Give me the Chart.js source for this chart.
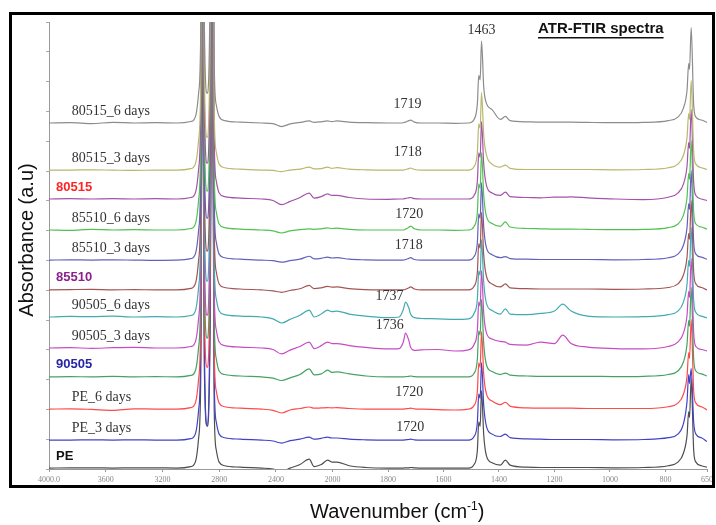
<!DOCTYPE html>
<html lang="en">
<head>
    <meta charset="UTF-8">
    <title>ATR-FTIR spectra</title>
    <script src="https://cdn.jsdelivr.net/npm/chart.js"></script>
    <style>
        html, body { margin: 0; padding: 0; background: #fff; }
        #wrap { width: 716px; height: 525px; }
    </style>
</head>
<body>
    <div id="wrap"><canvas id="ftirChart" width="716" height="525"></canvas></div>

    <script>
        // wavenumber grid shared by all spectra (cm-1)
        const wavenumbers = [
            4000, 3850, 3700, 3550, 3400, 3250, 3100,
            3000, 2965, 2945, 2930, 2918, 2905, 2885, 2865, 2849, 2835, 2820, 2800, 2760, 2650,
            2500, 2420, 2360, 2300, 2230, 2165, 2130, 2080, 2035, 2005, 1985, 1940, 1880, 1800,
            1760, 1745, 1737, 1725, 1719, 1705, 1680, 1620, 1560, 1510,
            1490, 1478, 1473, 1468, 1463, 1455, 1445, 1425, 1395, 1377, 1360,
            1300, 1250, 1200, 1170, 1140, 1080, 980, 880,
            790, 755, 735, 722, 716, 713, 707, 698, 690, 670, 650
        ];

        const seriesNames = ['80515_6 days', '80515_3 days', '80515', '85510_6 days', '85510_3 days', '85510',
            '90505_6 days', '90505_3 days', '90505', 'PE_6 days', 'PE_3 days', 'PE'];

        // vertical offset of each stacked spectrum (a.u)
        const offsets = [11.61, 10.03, 9.06, 8.02, 7.01, 6.01, 5.10, 4.06, 3.09, 2.01, 0.97, 0.03];

        // absorbance above each spectrum's own baseline
        const abs80515_6d = [
            0, 0.01, -0.02, 0.02, 0, 0.01, 0,
            0.05, 0.25, 1.0, 3.0, 16, 3.5, 1.0, 4.0, 16, 2.0, 0.6, 0.22, 0.08, 0.03,
            0, -0.02, -0.12, -0.03, 0.02, 0.07, 0.02, 0.04, 0.07, 0.05, 0.07, 0.03, 0.01, 0,
            0, 0.01, 0.03, 0.08, 0.1, 0.03, 0, 0, -0.01, 0,
            0.12, 0.65, 1.6, 1.45, 2.75, 1.2, 0.65, 0.45, 0.12, 0.22, 0.08,
            0.04, 0.03, 0.03, 0.03, 0.03, 0.02, 0.01, 0.02,
            0.08, 0.2, 0.5, 1.1, 2.0, 1.8, 3.2, 0.6, 0.2, 0.1, 0.02
        ];
        const abs80515_3d = [
            0, 0, 0.01, 0, -0.01, 0, 0,
            0.05, 0.25, 1.0, 3.0, 16, 3.5, 1.1, 4.0, 16, 2.0, 0.6, 0.2, 0.08, 0.03,
            0, -0.01, -0.05, 0, 0.03, 0.1, 0.04, 0.05, 0.1, 0.06, 0.08, 0.03, 0.01, 0,
            0, 0, 0.02, 0.05, 0.07, 0.02, 0, 0, 0, 0,
            0.12, 0.6, 1.55, 1.4, 2.6, 1.15, 0.5, 0.2, 0.1, 0.17, 0.06,
            0.02, 0.02, 0.02, 0.02, 0.02, 0.02, 0.01, 0.02,
            0.08, 0.2, 0.5, 1.1, 1.9, 1.7, 3.0, 0.6, 0.2, 0.08, 0.02
        ];
        const abs80515 = [
            0, 0.01, 0, 0.01, 0, 0.01, 0,
            0.05, 0.25, 1.0, 3.0, 16, 3.5, 1.2, 4.0, 16, 2.0, 0.6, 0.2, 0.08, 0.03,
            0, -0.05, -0.19, -0.08, 0.05, 0.2, 0.03, 0.08, 0.17, 0.12, 0.12, 0.05, 0, -0.01,
            0, 0, 0.02, 0.04, 0.05, 0.01, 0, 0, 0, 0,
            0.12, 0.6, 1.55, 1.4, 2.6, 1.15, 0.45, 0.2, 0.12, 0.23, 0.08,
            0.05, 0.04, 0.06, 0.06, 0.07, 0.04, 0, -0.02,
            0.06, 0.2, 0.5, 1.1, 1.9, 1.7, 3.0, 0.55, 0.12, 0, -0.05
        ];
        const abs85510_6d = [
            0, -0.01, 0.02, 0, 0.01, 0, 0,
            0.05, 0.25, 1.0, 3.0, 16, 3.5, 1.3, 4.0, 16, 2.0, 0.6, 0.2, 0.08, 0.03,
            0, -0.03, -0.1, -0.03, 0.01, 0.04, 0.02, 0.04, 0.07, 0.05, 0.06, 0.02, 0, 0,
            0, 0, 0.03, 0.09, 0.13, 0.04, 0, 0, -0.01, 0,
            0.12, 0.6, 1.55, 1.4, 2.6, 1.15, 0.45, 0.22, 0.12, 0.27, 0.1,
            0.05, 0.04, 0.03, 0.03, 0.03, 0.02, 0.01, 0.02,
            0.08, 0.2, 0.5, 1.1, 1.9, 1.7, 3.0, 0.6, 0.2, 0.1, 0.03
        ];
        const abs85510_3d = [
            0, 0.01, 0, 0.01, 0, -0.01, 0,
            0.05, 0.25, 1.0, 3.0, 16, 3.5, 1.4, 4.0, 16, 2.0, 0.6, 0.2, 0.08, 0.03,
            0, -0.02, -0.07, -0.02, 0.03, 0.13, 0.04, 0.06, 0.1, 0.07, 0.08, 0.03, 0.01, 0,
            0, 0, 0.02, 0.06, 0.08, 0.02, 0, 0, 0, 0,
            0.12, 0.6, 1.55, 1.4, 2.6, 1.1, 0.4, 0.18, 0.08, 0.12, 0.05,
            0.03, 0.02, 0.02, 0.02, 0.02, 0.02, 0.01, 0.02,
            0.08, 0.2, 0.5, 1.1, 1.9, 1.7, 3.0, 0.6, 0.2, 0.1, 0.03
        ];
        const abs85510 = [
            0, 0.01, 0.02, 0, 0.01, 0, 0,
            0.05, 0.25, 1.0, 3.0, 16, 3.5, 1.3, 4.0, 16, 2.0, 0.6, 0.2, 0.08, 0.03,
            0, -0.03, -0.08, -0.02, 0.04, 0.15, 0.04, 0.07, 0.12, 0.09, 0.1, 0.04, 0.01, 0,
            0, 0, 0.02, 0.07, 0.1, 0.03, 0, 0, 0, 0,
            0.12, 0.6, 1.55, 1.4, 2.6, 1.15, 0.45, 0.2, 0.1, 0.2, 0.07,
            0.04, 0.03, 0.03, 0.03, 0.03, 0.03, 0.02, 0.03,
            0.08, 0.2, 0.5, 1.1, 1.9, 1.7, 3.0, 0.6, 0.2, 0.08, 0
        ];
        const abs90505_6d = [
            0, 0.02, 0.01, 0.03, 0, 0.01, 0,
            0.05, 0.25, 1.0, 3.0, 16, 3.5, 1.2, 4.0, 16, 2.0, 0.6, 0.2, 0.08, 0.03,
            0, -0.06, -0.2, -0.08, 0.06, 0.23, 0, 0.1, 0.23, 0.18, 0.2, 0.1, 0.03, -0.02,
            0, 0.25, 0.5, 0.3, 0.1, -0.02, -0.05, -0.06, -0.08, -0.06,
            0.12, 0.6, 1.55, 1.4, 2.6, 1.15, 0.45, 0.22, 0.1, 0.27, 0.1,
            0.08, 0.12, 0.2, 0.43, 0.2, 0.03, 0, 0.01,
            0.08, 0.2, 0.5, 1.1, 1.9, 1.7, 3.0, 0.55, 0.15, 0.03, -0.03
        ];
        const abs90505_3d = [
            0, 0.01, -0.01, 0.01, 0.02, 0, 0,
            0.05, 0.25, 1.0, 3.0, 16, 3.5, 1.1, 4.0, 16, 2.0, 0.6, 0.2, 0.08, 0.03,
            0, -0.05, -0.2, -0.07, 0.05, 0.2, -0.02, 0.08, 0.2, 0.15, 0.15, 0.08, 0.02, -0.03,
            -0.02, 0.2, 0.5, 0.25, 0.03, -0.08, -0.06, -0.05, -0.1, -0.06,
            0.12, 0.6, 1.55, 1.4, 2.6, 1.15, 0.5, 0.3, 0.22, 0.2, 0.12,
            0.1, 0.2, 0.15, 0.43, 0.15, 0.03, -0.02, -0.03,
            0.05, 0.2, 0.5, 1.1, 1.9, 1.7, 3.0, 0.5, 0.05, -0.05, -0.1
        ];
        const abs90505 = [
            0, 0.01, 0, 0.02, 0, 0.01, 0,
            0.05, 0.25, 1.0, 3.0, 16, 3.5, 1.3, 4.0, 16, 2.0, 0.6, 0.2, 0.08, 0.03,
            0, -0.04, -0.12, -0.03, 0.08, 0.27, 0.07, 0.1, 0.23, 0.15, 0.17, 0.1, 0.03, 0,
            0, 0, 0.01, 0.02, 0.03, 0.01, 0, 0, 0, 0,
            0.12, 0.6, 1.55, 1.4, 2.6, 1.1, 0.4, 0.18, 0.08, 0.13, 0.06,
            0.03, 0.02, 0.02, 0.02, 0.02, 0.02, 0.01, 0.02,
            0.08, 0.2, 0.5, 1.1, 1.9, 1.7, 3.0, 0.6, 0.2, 0.1, 0.03
        ];
        const absPE_6d = [
            0, 0.01, -0.01, -0.04, 0.01, 0, 0,
            0.05, 0.25, 1.0, 3.0, 16, 3.5, 1.4, 4.0, 16, 2.0, 0.6, 0.2, 0.08, 0.03,
            0, -0.04, -0.13, -0.03, 0.02, 0.07, 0.03, 0.04, 0.05, 0.04, 0.05, 0.02, 0, 0,
            0, 0, 0.01, 0.02, 0.03, 0.01, 0, -0.02, -0.03, 0,
            0.12, 0.6, 1.55, 1.4, 2.6, 1.15, 0.5, 0.27, 0.15, 0.23, 0.1,
            0.04, 0.03, 0.03, 0.03, 0.03, 0.02, 0.02, 0.02,
            0.08, 0.2, 0.5, 1.1, 1.9, 1.7, 3.0, 0.6, 0.2, 0.08, -0.03
        ];
        const absPE_3d = [
            0, 0, 0.01, 0, 0.01, 0, 0,
            0.05, 0.25, 1.0, 3.0, 16, 3.5, 0.5, 4.0, 16, 2.0, 0.6, 0.2, 0.08, 0.03,
            0, -0.03, -0.1, -0.02, 0.03, 0.1, 0.03, 0.06, 0.1, 0.07, 0.07, 0.03, 0.01, 0,
            0, 0, 0.01, 0.02, 0.03, 0.01, 0, 0, 0, 0,
            0.12, 0.6, 1.55, 1.4, 2.6, 1.15, 0.45, 0.2, 0.12, 0.2, 0.08,
            0.04, 0.03, 0.02, 0.02, 0.02, 0.02, 0.01, 0.02,
            0.08, 0.2, 0.55, 1.3, 2.2, 1.9, 2.4, 0.6, 0.2, 0.08, -0.05
        ];
        const absPE = [
            0, 0.01, 0.01, 0, 0.01, 0.01, 0,
            0.05, 0.25, 1.0, 3.0, 16, 3.5, 1.4, 4.0, 16, 2.0, 0.6, 0.2, 0.08, 0.03,
            0, -0.03, -0.12, 0, 0.12, 0.3, 0.05, 0.12, 0.27, 0.2, 0.2, 0.08, 0.02, 0,
            0, 0, 0.01, 0.01, 0.02, 0.01, 0, 0, 0, 0,
            0.12, 0.6, 1.55, 1.4, 2.6, 1.1, 0.4, 0.18, 0.1, 0.27, 0.1,
            0.03, 0.02, 0.02, 0.02, 0.02, 0.02, 0.01, 0.02,
            0.08, 0.2, 0.5, 1.1, 1.9, 1.7, 3.0, 0.6, 0.2, 0.08, 0.03
        ];

        const spectra = [abs80515_6d, abs80515_3d, abs80515, abs85510_6d, abs85510_3d, abs85510,
            abs90505_6d, abs90505_3d, abs90505, absPE_6d, absPE_3d, absPE];

        const xTickValues = [4000, 3600, 3200, 2800, 2400, 2000, 1800, 1600, 1400, 1200, 1000, 800, 650];
        const xTickLabels = ['4000.0', '3600', '3200', '2800', '2400', '2000', '1800', '1600', '1400', '1200', '1000', '800', '650'];

        // carbonyl band labels and the spectrum each belongs to
        const peakLabels = ['1719', '1718', '1720', '1718', '1737', '1736', '1720', '1720'];
        const peakSeries = [0, 1, 3, 4, 6, 7, 9, 10];

        const lineColors = ['#8c8c8c', '#b8b86e', '#a452aa', '#52c052', '#6262ba', '#a35555',
            '#43abb0', '#c64cc4', '#45a263', '#ff4a4a', '#4242c8', '#4e4e4e'];
        const labelColors = ['#333', '#333', '#ff2424', '#333', '#333', '#8b1f8b',
            '#333', '#333', '#2626a4', '#333', '#333', '#111'];
        const boldLabels = ['80515', '85510', '90505', 'PE'];

        // FTIR axis: 4000-2000 compressed, 2000-650 expanded
        class FtirScale extends Chart.LinearScale {
            static id = 'ftir';
            static defaults = {};
            getPixelForValue(v) {
                const brk = 2000, frac = 0.431;
                let f;
                if (v >= brk) f = (this.max - v) / (this.max - brk) * frac;
                else f = frac + (brk - v) / (brk - this.min) * (1 - frac);
                return this.left + f * this.width;
            }
            getValueForPixel(p) {
                const brk = 2000, frac = 0.431;
                const f = (p - this.left) / this.width;
                if (f <= frac) return this.max - f / frac * (this.max - brk);
                return brk - (f - frac) / (1 - frac) * (brk - this.min);
            }
        }
        Chart.register(FtirScale);

        const textPlugin = {
            id: 'ftirText',
            afterDraw(chart) {
                const { ctx } = chart;
                const xs = chart.scales.x, ys = chart.scales.y;
                ctx.save();
                ctx.textBaseline = 'middle';

                // spectrum names
                seriesNames.forEach((name, i) => {
                    const base = ys.getPixelForValue(offsets[i]);
                    const bold = boldLabels.includes(name);
                    ctx.fillStyle = labelColors[i];
                    ctx.textAlign = 'left';
                    ctx.font = bold ? 'bold 13px "Liberation Sans", Arial, sans-serif'
                                    : '14px "Liberation Serif", "Times New Roman", serif';
                    const left = xs.getPixelForValue(bold ? 3950 : 3840);
                    ctx.fillText(name, left, base - 12);
                });

                // carbonyl band numbers
                const shifts = [[-3, 19], [-3, 18], [-1, 16], [-2, 15], [-16, 21], [-16, 23], [-1, 17], [0, 13]];
                ctx.font = '14px "Liberation Serif", "Times New Roman", serif';
                ctx.fillStyle = '#333';
                ctx.textAlign = 'center';
                peakLabels.forEach((txt, k) => {
                    const i = peakSeries[k];
                    const base = ys.getPixelForValue(offsets[i]);
                    ctx.fillText(txt, xs.getPixelForValue(Number(txt)) + shifts[k][0], base - shifts[k][1]);
                });
                ctx.fillText('1463', xs.getPixelForValue(1463), 30);

                // title
                ctx.textAlign = 'left';
                ctx.fillStyle = '#111';
                ctx.font = 'bold 15px "Liberation Sans", Arial, sans-serif';
                const title = 'ATR-FTIR spectra';
                const tw = ctx.measureText(title).width;
                ctx.fillText(title, 538, 29);
                ctx.fillRect(538, 37, tw, 1.5);

                // axis titles
                ctx.textBaseline = 'alphabetic';
                ctx.font = '20px "Liberation Sans", Arial, sans-serif';
                ctx.save();
                ctx.translate(33, 240);
                ctx.rotate(-Math.PI / 2);
                ctx.textAlign = 'center';
                ctx.fillText('Absorbance (a.u)', 0, 0);
                ctx.restore();

                let px = 310;
                const py = 518;
                ctx.textAlign = 'left';
                ctx.fillText('Wavenumber (cm', px, py);
                px += ctx.measureText('Wavenumber (cm').width;
                ctx.font = '12px "Liberation Sans", Arial, sans-serif';
                ctx.fillText('-1', px, py - 8);
                px += ctx.measureText('-1').width;
                ctx.font = '20px "Liberation Sans", Arial, sans-serif';
                ctx.fillText(')', px, py);

                // outer frame
                ctx.strokeStyle = '#000';
                ctx.lineWidth = 3;
                ctx.strokeRect(10.5, 13.5, 703, 473);
                ctx.restore();
            }
        };

        const datasets = seriesNames.map((name, i) => ({
            label: name,
            data: wavenumbers.map((wn, j) => ({ x: wn, y: offsets[i] + spectra[i][j] })),
            borderColor: lineColors[i],
            borderWidth: 1.2,
            pointRadius: 0,
            fill: false,
            cubicInterpolationMode: 'monotone'
        }));

        new Chart(document.getElementById('ftirChart'), {
            type: 'line',
            data: { datasets: datasets },
            options: {
                responsive: false,
                animation: false,
                events: [],
                layout: { padding: { left: 0, right: 8, top: 22, bottom: 0 } },
                plugins: {
                    legend: { display: false },
                    tooltip: { enabled: false }
                },
                scales: {
                    x: {
                        type: 'ftir',
                        min: 650,
                        max: 4000,
                        afterBuildTicks: s => { s.ticks = xTickValues.map(v => ({ value: v })); },
                        afterFit: s => { s.height = 56; },
                        ticks: {
                            autoSkip: false,
                            maxRotation: 0,
                            padding: 3,
                            color: '#888',
                            font: { family: '"Liberation Serif", serif', size: 8 },
                            callback: (v, i) => xTickLabels[i]
                        },
                        grid: { drawOnChartArea: false, tickLength: 3, color: '#999' },
                        border: { color: '#999', width: 1 }
                    },
                    y: {
                        min: 0,
                        max: 15,
                        afterFit: s => { s.width = 49; },
                        ticks: { stepSize: 1, display: false },
                        grid: { drawOnChartArea: false, tickLength: 3, color: '#aaa' },
                        border: { color: '#999', width: 1 }
                    }
                }
            },
            plugins: [textPlugin]
        });
    </script>
</body>
</html>
